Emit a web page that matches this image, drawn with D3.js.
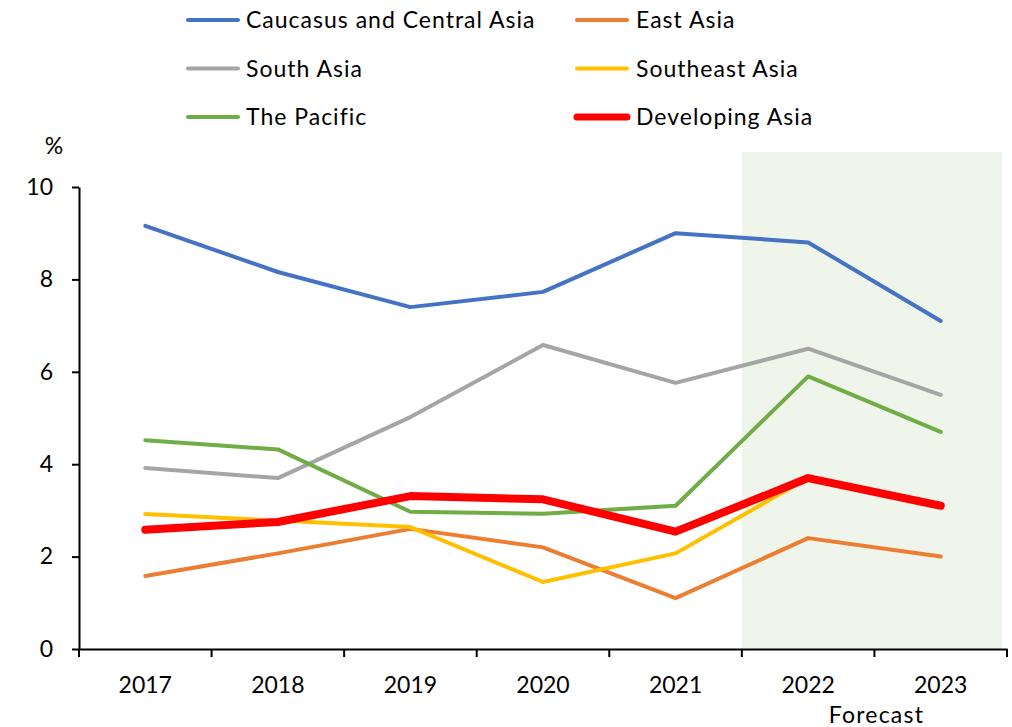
<!DOCTYPE html>
<html>
<head>
<meta charset="utf-8">
<script src="https://cdn.jsdelivr.net/npm/d3@7"></script>
<style>
  body { margin: 0; background: #fff; }
  svg text { font-family: Lato, "Open Sans", sans-serif; fill: #000; }
</style>
</head>
<body>
<div id="chart"></div>
<script>
var years = ["2017", "2018", "2019", "2020", "2021", "2022", "2023"];
var forecastYears = ["2022", "2023"];
var yTicks = [0, 2, 4, 6, 8, 10];

var caucasus = [9.16, 8.16, 7.4, 7.73, 9.0, 8.8, 7.1];
var eastAsia = [1.58, 2.07, 2.6, 2.2, 1.1, 2.4, 2.0];
var southAsia = [3.92, 3.7, 5.02, 6.58, 5.76, 6.5, 5.5];
var southeastAsia = [2.92, 2.78, 2.64, 1.45, 2.07, 3.7, 3.1];
var pacific = [4.52, 4.32, 2.97, 2.93, 3.1, 5.9, 4.7];
var developingAsia = [2.58, 2.75, 3.31, 3.24, 2.54, 3.7, 3.1];

var seriesNames = ["Caucasus and Central Asia", "East Asia", "South Asia", "Southeast Asia", "The Pacific", "Developing Asia"];
var seriesValues = [caucasus, eastAsia, southAsia, southeastAsia, pacific, developingAsia];
var seriesColors = ["#4472C4", "#ED7D31", "#A5A5A5", "#FFC000", "#70AD47", "#FF0000"];
var seriesWidths = [4, 4, 4, 4, 4, 8];

var series = seriesNames.map(function (n, i) {
    return { name: n, values: seriesValues[i], color: seriesColors[i], width: seriesWidths[i] };
});

var svg = d3.select("#chart").append("svg").attr("width", 1012).attr("height", 727);

var margin = { top: 187, right: 5, bottom: 78, left: 79 };
var width = 1012 - margin.left - margin.right;
var height = 727 - margin.top - margin.bottom;

var x = d3.scaleBand().domain(years).range([0, width]);
var y = d3.scaleLinear().domain([0, 10]).range([height, 0]);

var g = svg.append("g").attr("transform", "translate(" + margin.left + "," + margin.top + ")");

// forecast shading
g.append("rect")
    .attr("x", x(forecastYears[0]))
    .attr("y", -35)
    .attr("width", x(forecastYears[forecastYears.length - 1]) + x.bandwidth() - x(forecastYears[0]) - 5)
    .attr("height", height + 35)
    .attr("fill", "#EFF5EA");

// axes
var yAxis = g.append("g")
    .call(d3.axisLeft(y).tickValues(yTicks).tickSize(7).tickPadding(19).tickSizeOuter(0));
yAxis.select(".domain").attr("stroke", "#000").attr("stroke-width", 2);
yAxis.selectAll(".tick line").attr("stroke", "#000").attr("stroke-width", 2);
yAxis.selectAll("text").style("font-size", "23px").style("font-family", "Lato, 'Open Sans', sans-serif");

var xAxis = g.append("g").attr("transform", "translate(0," + height + ")")
    .call(d3.axisBottom(x).tickSize(0).tickPadding(28));
xAxis.select(".domain").attr("stroke", "#000").attr("stroke-width", 2);
xAxis.selectAll("text").style("font-size", "23px").style("font-family", "Lato, 'Open Sans', sans-serif");
xAxis.selectAll(".xtick")
    .data(d3.range(years.length + 1))
    .enter().append("line")
    .attr("x1", function (i) { return i * x.step(); })
    .attr("x2", function (i) { return i * x.step(); })
    .attr("y1", 0).attr("y2", 8)
    .attr("stroke", "#000").attr("stroke-width", 2);

g.append("text")
    .attr("x", x("2023") + 2)
    .attr("y", height + 74)
    .attr("text-anchor", "middle")
    .style("font-size", "23px")
    .style("letter-spacing", "1.2px")
    .text("Forecast");

g.append("text")
    .attr("x", -25)
    .attr("y", -33)
    .attr("text-anchor", "middle")
    .style("font-size", "23px")
    .text("%");

// lines
var line = d3.line()
    .x(function (d, i) { return x(years[i]) + x.bandwidth() / 2; })
    .y(function (d) { return y(d); });

g.selectAll(".series")
    .data(series)
    .enter().append("path")
    .attr("class", "series")
    .attr("d", function (d) { return line(d.values); })
    .attr("fill", "none")
    .attr("stroke", function (d) { return d.color; })
    .attr("stroke-width", function (d) { return d.width; })
    .attr("stroke-linecap", "round")
    .attr("stroke-linejoin", "round");

// legend
var legend = svg.append("g");
var item = legend.selectAll(".item")
    .data(series)
    .enter().append("g")
    .attr("class", "item")
    .attr("transform", function (d, i) {
        return "translate(" + (i % 2 === 0 ? 188 : 577) + "," + (20 + Math.floor(i / 2) * 48.5) + ")";
    });
item.append("line")
    .attr("x1", 0).attr("x2", 50)
    .attr("stroke", function (d) { return d.color; })
    .attr("stroke-width", function (d) { return d.width === 8 ? 7 : 4; })
    .attr("stroke-linecap", "round");
item.append("text")
    .attr("x", function (d, i) { return i % 2 === 0 ? 58 : 59; })
    .attr("dy", "0.35em")
    .style("font-size", "23px")
    .style("letter-spacing", "1px")
    .text(function (d) { return d.name; });
</script>
</body>
</html>
